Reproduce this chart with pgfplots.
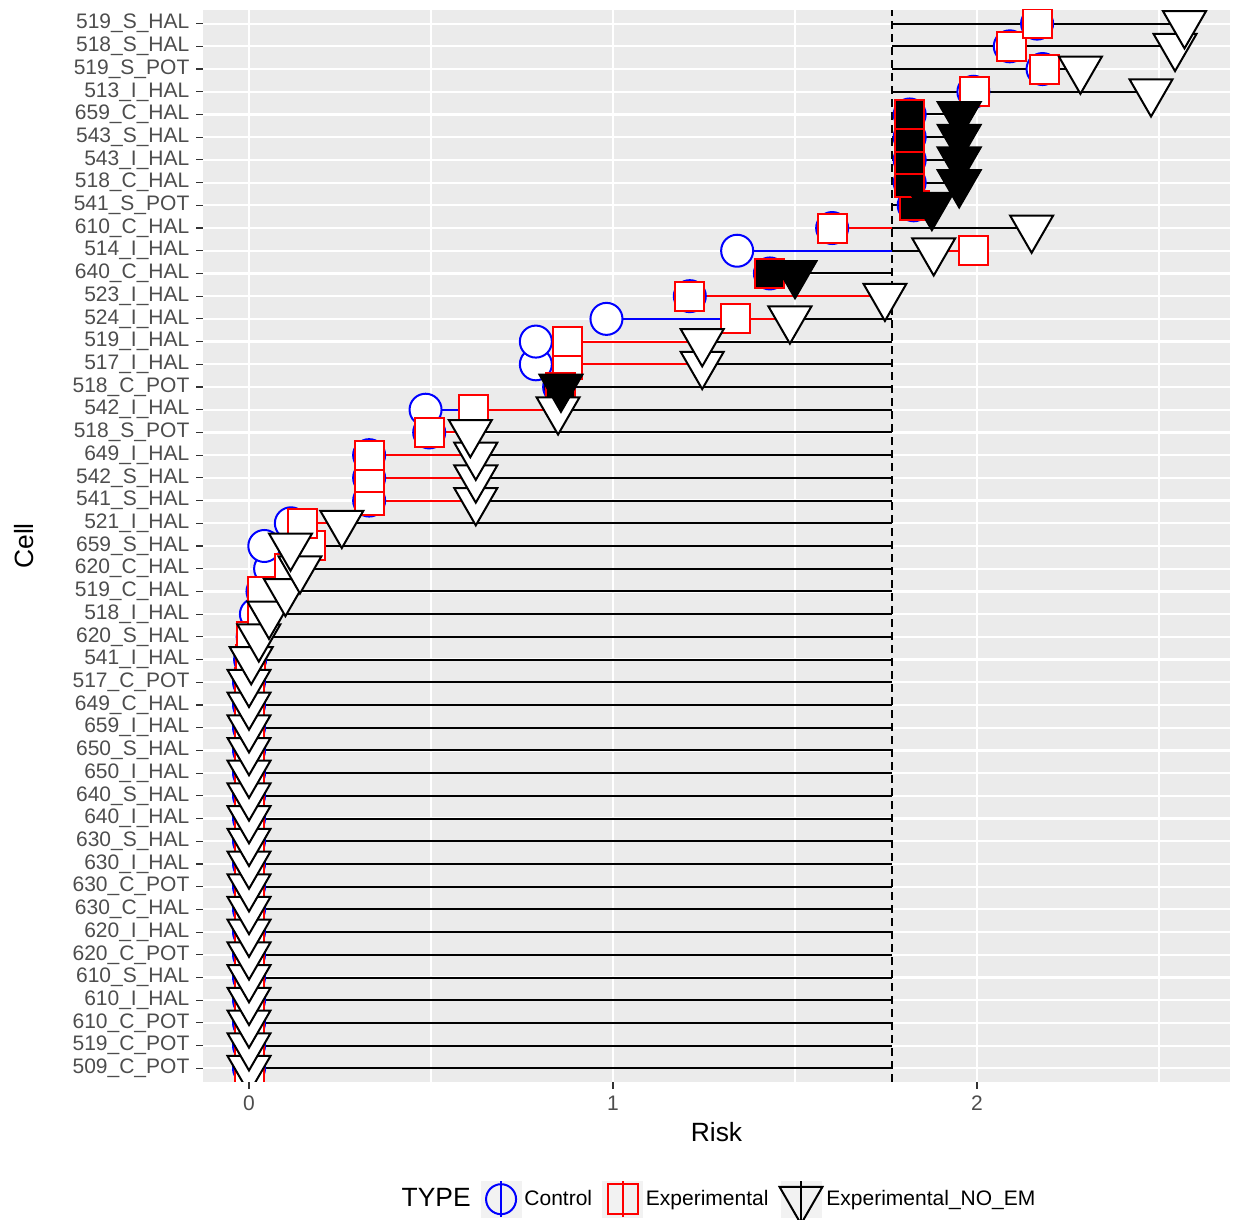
\documentclass[border=0pt]{standalone}
\usepackage{pgfplots}
\pgfplotsset{compat=1.18}
\usepackage{pgfplotstable}
\usepackage{fontspec}
\setmainfont{Liberation Sans}
\definecolor{ggbg}{HTML}{EBEBEB}
\definecolor{ggkey}{HTML}{F2F2F2}
\definecolor{gg30}{HTML}{4D4D4D}
\definecolor{gg20}{HTML}{333333}

% rows with open markers: y = row number from the bottom
\pgfplotstableread{
y C E N
1 0 0 0
2 0 0 0
3 0 0 0
4 0 0 0
5 0 0 0
6 0 0 0
7 0 0 0
8 0 0 0
9 0 0 0
10 0 0 0
11 0 0 0
12 0 0 0
13 0 0 0
14 0 0 0
15 0 0 0
16 0 0 0
17 0 0 0
18 0 0 0
19 0.003 0.005 0.006
20 0.010 0.008 0.027
21 0.019 0.037 0.055
22 0.037 0.037 0.100
23 0.058 0.110 0.140
24 0.042 0.168 0.114
25 0.115 0.147 0.255
26 0.330 0.330 0.623
27 0.330 0.330 0.623
28 0.330 0.330 0.623
29 0.495 0.495 0.608
30 0.485 0.617 0.849
32 0.788 0.876 1.245
33 0.788 0.876 1.245
34 0.982 1.336 1.486
35 1.211 1.211 1.747
37 1.341 1.990 1.881
38 1.602 1.602 2.150
44 1.990 1.992 2.478
45 2.180 2.184 2.284
46 2.090 2.094 2.544
47 2.165 2.165 2.570
}\dataopen

% rows with filled markers
\pgfplotstableread{
y C E N
31 0.852 0.857 0.857
36 1.431 1.431 1.500
39 1.826 1.827 1.876
40 1.815 1.815 1.951
41 1.815 1.815 1.951
42 1.815 1.815 1.951
43 1.815 1.815 1.951
}\datafilled

\begin{document}
\begin{tikzpicture}
\path[use as bounding box] (0,0) rectangle (616.5bp,610bp);
\begin{axis}[
  at={(101.5bp,69bp)}, anchor=south west,
  scale only axis, width=513.5bp, height=536bp,
  xmin=-0.1264, xmax=2.695, ymin=0.4, ymax=47.6,
  clip marker paths=true,
  axis background/.style={fill=ggbg},
  axis line style={draw=none},
  xtick={0,1,2}, xticklabels={0,1,2},
  minor xtick={0.5,1.5,2.5},
  ytick={1,...,47},
  yticklabels={509\_C\_POT,519\_C\_POT,610\_C\_POT,610\_I\_HAL,610\_S\_HAL,620\_C\_POT,620\_I\_HAL,630\_C\_HAL,630\_C\_POT,630\_I\_HAL,630\_S\_HAL,640\_I\_HAL,640\_S\_HAL,650\_I\_HAL,650\_S\_HAL,659\_I\_HAL,649\_C\_HAL,517\_C\_POT,541\_I\_HAL,620\_S\_HAL,518\_I\_HAL,519\_C\_HAL,620\_C\_HAL,659\_S\_HAL,521\_I\_HAL,541\_S\_HAL,542\_S\_HAL,649\_I\_HAL,518\_S\_POT,542\_I\_HAL,518\_C\_POT,517\_I\_HAL,519\_I\_HAL,524\_I\_HAL,523\_I\_HAL,640\_C\_HAL,514\_I\_HAL,610\_C\_HAL,541\_S\_POT,518\_C\_HAL,543\_I\_HAL,543\_S\_HAL,659\_C\_HAL,513\_I\_HAL,519\_S\_POT,518\_S\_HAL,519\_S\_HAL},
  grid=both,
  major grid style={white, line width=1.1bp},
  minor grid style={white, line width=0.55bp},
  tick align=outside, tick pos=left,
  major tick length=3.3bp, minor tick length=0pt,
  tick style={gg20, line width=0.55bp},
  tick label style={font=\fontsize{10.5bp}{12bp}\selectfont, text=gg30},
  xlabel={Risk}, ylabel={Cell},
  label style={font=\fontsize{13.2bp}{15bp}\selectfont, text=black},
  xlabel style={at={(axis description cs:0.5,-0.0466)}, anchor=center},
  ylabel style={at={(axis description cs:-0.174,0.5)}, anchor=center},
  legend columns=4,
  legend style={at={(0.502,-0.1125)}, anchor=center, draw=none, fill=none,
    font=\fontsize{10.5bp}{12bp}\selectfont,
    nodes={inner xsep=1.5bp},
    /tikz/every even column/.append style={column sep=3.5bp}},
]
% segments from each value to the reference risk 1.766
\addplot[forget plot, blue, line width=1bp, no marks, quiver={u={1.766-\thisrow{C}}, v=0}] table[x=C,y=y]{\dataopen};
\addplot[forget plot, blue, line width=1bp, no marks, quiver={u={1.766-\thisrow{C}}, v=0}] table[x=C,y=y]{\datafilled};
\addplot[forget plot, red, line width=1bp, no marks, quiver={u={1.766-\thisrow{E}}, v=0}] table[x=E,y=y]{\dataopen};
\addplot[forget plot, red, line width=1bp, no marks, quiver={u={1.766-\thisrow{E}}, v=0}] table[x=E,y=y]{\datafilled};
\addplot[forget plot, black, line width=1bp, no marks, quiver={u={1.766-\thisrow{N}}, v=0}] table[x=N,y=y]{\dataopen};
\addplot[forget plot, black, line width=1bp, no marks, quiver={u={1.766-\thisrow{N}}, v=0}] table[x=N,y=y]{\datafilled};
% dashed reference line
\addplot[forget plot, black, line width=1bp, dash pattern=on 4bp off 2.5bp] coordinates {(1.766,0.4) (1.766,47.6)};
% markers
\addplot[forget plot, only marks, mark=*, mark size=8bp, mark options={draw=blue, fill=white, line width=1bp}] table[x=C,y=y]{\dataopen};
\addplot[forget plot, only marks, mark=*, mark size=8bp, mark options={draw=blue, fill=black, line width=1bp}] table[x=C,y=y]{\datafilled};
\addplot[forget plot, only marks, mark=square*, mark size=7.25bp, mark options={draw=red, fill=white, line width=1bp}] table[x=E,y=y]{\dataopen};
\addplot[forget plot, only marks, mark=square*, mark size=7.25bp, mark options={draw=red, fill=black, line width=1bp}] table[x=E,y=y]{\datafilled};
\addplot[forget plot, only marks, mark=triangle*, mark size=12.4bp, mark options={rotate=180, draw=black, fill=white, line width=1bp}] table[x=N,y=y]{\dataopen};
\addplot[forget plot, only marks, mark=triangle*, mark size=12.4bp, mark options={rotate=180, draw=black, fill=black, line width=1bp}] table[x=N,y=y]{\datafilled};
% legend
\addlegendimage{empty legend}
\addlegendentry{\fontsize{13.2bp}{15bp}\selectfont TYPE}
\addlegendimage{legend image code/.code={
  \fill[ggkey] (0bp,-9bp) rectangle (20bp,9bp);
  \draw[blue, line width=1bp] (10bp,0bp) circle (7.5bp);
  \draw[blue, line width=1bp] (10bp,-9bp) -- (10bp,9bp);}}
\addlegendentry{Control}
\addlegendimage{legend image code/.code={
  \fill[ggkey] (0bp,-9bp) rectangle (20bp,9bp);
  \draw[red, line width=1bp] (2.5bp,-7.5bp) rectangle (17.5bp,7.5bp);
  \draw[red, line width=1bp] (10bp,-9bp) -- (10bp,9bp);}}
\addlegendentry{Experimental}
\addlegendimage{legend image code/.code={
  \fill[ggkey] (0bp,-9bp) rectangle (20bp,9bp);
  \draw[black, line width=1bp] (-0.74bp,6.2bp) -- (20.74bp,6.2bp) -- (10bp,-12.4bp) -- cycle;
  \draw[black, line width=1bp] (10bp,-12.4bp) -- (10bp,9bp);}}
\addlegendentry{Experimental\_NO\_EM}
\end{axis}
\end{tikzpicture}
\end{document}
